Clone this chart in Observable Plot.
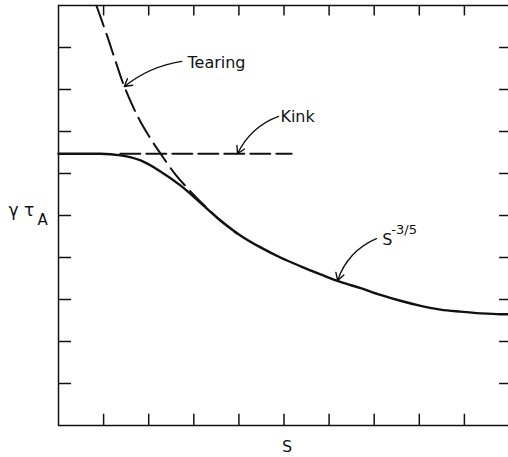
<!DOCTYPE html>
<html>
<head>
<meta charset="utf-8">
<script src="https://cdn.jsdelivr.net/npm/d3@7"></script>
<script src="https://cdn.jsdelivr.net/npm/@observablehq/plot@0.6"></script>
<style>
  html, body { margin: 0; padding: 0; background: #fff; }
  #chart svg { display: block; }
</style>
</head>
<body>
<div id="chart"></div>
<script>
// Solid curve: growth rate vs S
const solidS = [0, 0.49, 0.93, 1.38, 1.82, 2.26, 2.71, 3.15, 3.59, 4.04, 4.48, 4.92, 5.37, 5.81, 6.25, 6.70, 7.14, 7.58, 8.03, 8.47, 8.91, 9.36, 9.80, 10];
const solidY = [6.47, 6.47, 6.47, 6.43, 6.31, 6.05, 5.71, 5.30, 4.88, 4.52, 4.24, 4.00, 3.79, 3.60, 3.42, 3.27, 3.11, 2.97, 2.85, 2.76, 2.71, 2.67, 2.65, 2.65];
// Tearing (dashed)
const tearS = [0.84, 1.09, 1.26, 1.46, 1.77, 2.04, 2.31, 2.59, 2.93, 3.26, 3.59, 3.95];
const tearY = [10.0, 9.24, 8.69, 8.07, 7.33, 6.83, 6.40, 5.98, 5.57, 5.21, 4.88, 4.57];
// Kink (dashed, horizontal)
const kinkS = [1.37, 5.17];
const kinkY = [6.47, 6.47];
// Tick positions (no labels)
const xTicks = [1, 2, 3, 4, 5, 6, 7, 8, 9];
const yTicks = [1, 2, 3, 4, 5, 6, 7, 8, 9];
// Annotations
const annLabels = ["Tearing", "Kink", "S"];
const annTextS = [2.86, 4.92, 7.18];
const annTextY = [8.64, 7.36, 4.43];
const annFromS = [2.73, 4.88, 7.05];
const annFromY = [8.67, 7.36, 4.45];
const annToS = [1.46, 3.97, 6.19];
const annToY = [8.07, 6.47, 3.45];
const annBend = [-15, -22, -25];
const supLabel = "-3/5";
const supS = 7.38, supY = 4.66;

const solid = solidS.map((s, i) => ({S: s, g: solidY[i]}));
const tear = tearS.map((s, i) => ({S: s, g: tearY[i]}));
const kink = kinkS.map((s, i) => ({S: s, g: kinkY[i]}));
const ann = annLabels.map((t, i) => ({t, tx: annTextS[i], ty: annTextY[i], x1: annFromS[i], y1: annFromY[i], x2: annToS[i], y2: annToY[i], bend: annBend[i]}));

const tickX = 0.27, tickY = 0.29, tickR = 0.22;
const font = "DejaVu Sans, sans-serif";

const chart = Plot.plot({
  width: 508,
  height: 457,
  marginLeft: 58,
  marginRight: -1,
  marginTop: 5,
  marginBottom: 32,
  x: {domain: [0, 10], axis: null},
  y: {domain: [0, 10], axis: null},
  style: {fontFamily: font, background: "#fff", color: "#111"},
  marks: [
    Plot.frame({stroke: "#111", strokeWidth: 1.5}),
    // inward ticks
    Plot.ruleX(xTicks, {x: d => d, y1: 0, y2: tickX, stroke: "#111", strokeWidth: 1.5}),
    Plot.ruleX(xTicks, {x: d => d, y1: 10, y2: 10 - tickX * 0.92, stroke: "#111", strokeWidth: 1.5}),
    Plot.ruleY(yTicks, {y: d => d, x1: 0, x2: tickY, stroke: "#111", strokeWidth: 1.5}),
    Plot.ruleY(yTicks, {y: d => d, x1: 10, x2: 10 - tickR, stroke: "#111", strokeWidth: 1.5}),
    // curves
    Plot.line(solid, {x: "S", y: "g", curve: "monotone-x", stroke: "#111", strokeWidth: 2.4}),
    Plot.line(tear, {x: "S", y: "g", curve: "catmull-rom", stroke: "#111", strokeWidth: 2, strokeDasharray: "22,8", clip: true}),
    Plot.line(kink, {x: "S", y: "g", stroke: "#111", strokeWidth: 2, strokeDasharray: "20,6"}),
    // annotation arrows
    ...ann.map(a => Plot.arrow([a], {x1: "x1", y1: "y1", x2: "x2", y2: "y2", bend: a.bend, stroke: "#111", strokeWidth: 1.4, headLength: 9})),
    Plot.text(ann, {x: "tx", y: "ty", text: "t", textAnchor: "start", fontSize: 16, fill: "#111", lineAnchor: "middle", style: "letter-spacing:1px"}),
    Plot.text([supLabel], {x: () => supS, y: () => supY, text: d => d, textAnchor: "start", fontSize: 13, fill: "#111", lineAnchor: "middle", style: "letter-spacing:1.5px"}),
    // axis labels
    Plot.text(["γ τ"], {frameAnchor: "left", dx: -50, dy: 0, text: d => d, textAnchor: "start", fontSize: 17, fill: "#111", lineAnchor: "bottom"}),
    Plot.text(["A"], {frameAnchor: "left", dx: -21, dy: 9, text: d => d, textAnchor: "start", fontSize: 15, fill: "#111", lineAnchor: "bottom"}),
    Plot.text(["S"], {frameAnchor: "bottom", dx: 3, dy: 21, text: d => d, fontSize: 16, fill: "#111", lineAnchor: "middle"})
  ]
});
document.getElementById("chart").appendChild(chart);
</script>
</body>
</html>
